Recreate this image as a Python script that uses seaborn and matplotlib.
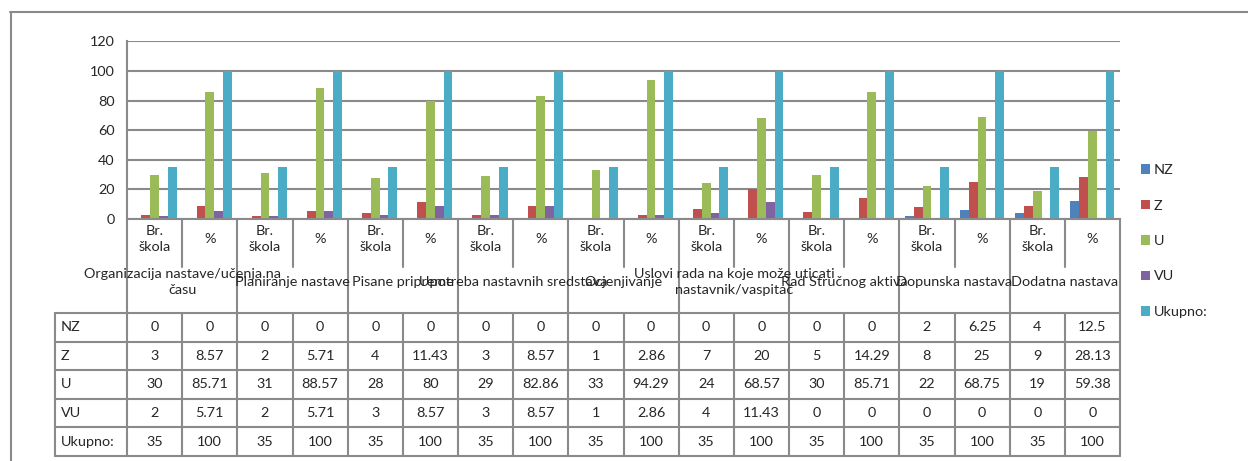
import pandas as pd
import seaborn as sns
import matplotlib.pyplot as plt
from matplotlib.lines import Line2D
from matplotlib.patches import Patch

groups = [
	"Organizacija nastave/učenja na\nčasu",
	"Planiranje nastave",
	"Pisane pripreme",
	"Upotreba nastavnih sredstava",
	"Ocjenjivanje",
	"Uslovi rada na koje može uticati\nnastavnik/vaspitač",
	"Rad Stručnog aktiva",
	"Dopunska nastava",
	"Dodatna nastava",
]
sub_labels = ["Br.\nškola", "%"]
series = ["NZ", "Z", "U", "VU", "Ukupno:"]
nz = [0, 0, 0, 0, 0, 0, 0, 0, 0, 0, 0, 0, 0, 0, 2, 6.25, 4, 12.5]
z = [3, 8.57, 2, 5.71, 4, 11.43, 3, 8.57, 1, 2.86, 7, 20, 5, 14.29, 8, 25, 9, 28.13]
u = [30, 85.71, 31, 88.57, 28, 80, 29, 82.86, 33, 94.29, 24, 68.57, 30, 85.71, 22, 68.75, 19, 59.38]
vu = [2, 5.71, 2, 5.71, 3, 8.57, 3, 8.57, 1, 2.86, 4, 11.43, 0, 0, 0, 0, 0, 0]
ukupno = [35, 100] * 9
colors = ["#4F81BD", "#C0504D", "#9BBB59", "#8064A2", "#4BACC6"]

values = [nz, z, u, vu, ukupno]
n_cols = len(nz)
col_keys = [f"c{i}" for i in range(n_cols)]

rows = []
for name, vals in zip(series, values):
	for key, v in zip(col_keys, vals):
		rows.append({"col": key, "series": name, "value": v})
df = pd.DataFrame(rows)

sns.set_style("white")
plt.rcParams["font.family"] = ["Lato", "DejaVu Sans"]
FS = 10.4
plt.rcParams["font.size"] = FS

W, H = 1248, 461
GRAY = "#8a8a8a"

def fx(x):
	return x / W

def fy(y):
	return 1 - y / H

x0, x1 = 127, 1120
y_top, y_zero = 41.5, 219
cw = (x1 - x0) / n_cols

fig = plt.figure(figsize=(W / 100, H / 100), dpi=100)
ax = fig.add_axes([fx(x0), fy(y_zero), fx(x1 - x0), (y_zero - y_top) / H])

sns.barplot(data=df, x="col", y="value", hue="series", order=col_keys,
	hue_order=series, palette=colors, saturation=1, width=0.8, linewidth=0,
	legend=False, ax=ax)

ax.set_xlim(-0.5, n_cols - 0.5)
ax.set_ylim(0, 120)
ax.set_yticks(range(0, 121, 20))
ax.set_xticks([])
ax.set_xlabel("")
ax.set_ylabel("")
ax.yaxis.grid(True, color=GRAY, lw=1.5)
ax.set_axisbelow(True)
for s in ["top", "right"]:
	ax.spines[s].set_visible(False)
for s in ["left", "bottom"]:
	ax.spines[s].set_color(GRAY)
	ax.spines[s].set_linewidth(1.5)
ax.tick_params(axis="y", length=5, width=1.5, color=GRAY, labelsize=FS, pad=4)

def vline(x, ya, yb):
	fig.add_artist(Line2D([fx(x), fx(x)], [fy(ya), fy(yb)], color=GRAY, lw=1.5))

def hline(y, xa, xb):
	fig.add_artist(Line2D([fx(xa), fx(xb)], [fy(y), fy(y)], color=GRAY, lw=1.5))

# category header (sub labels and group labels)
for i in range(n_cols + 1):
	xb = x0 + i * cw
	if i % 2 == 0:
		vline(xb, y_zero, 313)
	else:
		vline(xb, y_zero, 267)
for i in range(n_cols):
	xc = x0 + (i + 0.5) * cw
	fig.text(fx(xc), fy(239), sub_labels[i % 2], ha="center", va="center",
		fontsize=FS, linespacing=1.35)
for g, name in enumerate(groups):
	xc = x0 + (2 * g + 1) * cw
	fig.text(fx(xc), fy(282), name, ha="center", va="center",
		fontsize=FS, linespacing=1.3)

# data table
t_left, t_top, rh = 55, 313, 28.6
for r in range(len(series) + 1):
	hline(t_top + r * rh, t_left, x1)
vline(t_left, t_top, t_top + len(series) * rh)
for i in range(n_cols + 1):
	vline(x0 + i * cw, t_top, t_top + len(series) * rh)
for r, (name, vals) in enumerate(zip(series, values)):
	yc = t_top + (r + 0.5) * rh
	fig.text(fx(t_left + 6), fy(yc), name, ha="left", va="center", fontsize=FS)
	for i, v in enumerate(vals):
		fig.text(fx(x0 + (i + 0.5) * cw), fy(yc), f"{v:g}", ha="center",
			va="center", fontsize=FS)

# outer chart border
hline(12, 10, W)
vline(11, 12, H)

handles = [Patch(facecolor=c, edgecolor="none") for c in colors]
fig.legend(handles, series, loc="center left",
	bbox_to_anchor=(fx(1128), fy(241)), frameon=False, fontsize=FS,
	handlelength=0.65, handleheight=0.65, handletextpad=0.25,
	labelspacing=1.62)

fig.savefig("out.png", dpi=100)
